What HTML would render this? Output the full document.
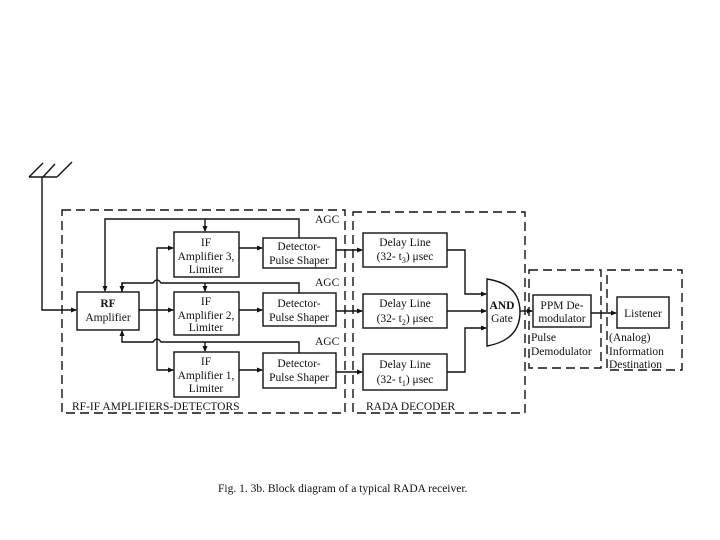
<!DOCTYPE html>
<html><head><meta charset="utf-8"><style>
html,body{margin:0;padding:0;background:#fff;}
svg{display:block;}
text{font-family:"Liberation Serif",serif;font-size:11.5px;fill:#111;}
.b{font-weight:bold;}
</style></head><body>
<svg width="720" height="540" viewBox="0 0 720 540" xmlns="http://www.w3.org/2000/svg">
<defs><marker id="a" markerWidth="6" markerHeight="6" refX="5" refY="3" orient="auto" markerUnits="userSpaceOnUse"><path d="M0,0.5 L6,3 L0,5.5z" fill="#111"/></marker></defs>
<g fill="none" stroke="#111" stroke-width="1.4">
<path d="M29,177 H57 M29,177 L43,163 M43,177 L55,164 M57,177 L72,162"/>
<path d="M42,177 V310 H76" marker-end="url(#a)"/>
<g stroke-dasharray="9,5">
<rect x="62" y="210" width="283" height="203"/>
<rect x="353" y="212" width="172" height="201"/>
<rect x="529" y="270" width="72" height="98"/>
<rect x="607" y="270" width="75" height="100"/>
</g>
<rect x="77" y="292" width="62" height="38"/>
<rect x="174" y="232" width="65" height="45"/>
<rect x="174" y="292" width="65" height="43"/>
<rect x="174" y="352" width="65" height="45"/>
<rect x="263" y="238" width="73" height="30"/>
<rect x="263" y="293" width="73" height="33"/>
<rect x="263" y="353" width="73" height="35"/>
<rect x="363" y="233" width="84" height="34"/>
<rect x="363" y="294" width="84" height="34"/>
<rect x="363" y="354" width="84" height="36"/>
<rect x="533" y="295" width="58" height="32"/>
<rect x="617" y="297" width="52" height="31"/>
<path d="M487,279 V346 Q520,340 520,312 Q520,284 487,279 Z"/>
<path d="M299,238 V219 H105 V291" marker-end="url(#a)"/>
<path d="M205,219 V231" marker-end="url(#a)"/>
<path d="M299,293 V283 H161 Q157,277 153,283 H122 V292"/>
<path d="M122,283 V291" marker-end="url(#a)"/>
<path d="M205,283 V291" marker-end="url(#a)"/>
<path d="M299,353 V342 H161 Q157,336 153,342 H122 V331" marker-end="url(#a)"/>
<path d="M205,342 V351" marker-end="url(#a)"/>
<path d="M139,310 H173" marker-end="url(#a)"/>
<path d="M157,310 V248 H173" marker-end="url(#a)"/>
<path d="M157,310 V370 H173" marker-end="url(#a)"/>
<path d="M239,248 H262" marker-end="url(#a)"/>
<path d="M239,310 H262" marker-end="url(#a)"/>
<path d="M239,370 H262" marker-end="url(#a)"/>
<path d="M336,250 H362" marker-end="url(#a)"/>
<path d="M336,311 H362" marker-end="url(#a)"/>
<path d="M336,372 H362" marker-end="url(#a)"/>
<path d="M447,250 H465 V294 H486" marker-end="url(#a)"/>
<path d="M447,311 H486" marker-end="url(#a)"/>
<path d="M447,372 H465 V328 H486" marker-end="url(#a)"/>
<path d="M520,311 H532" marker-end="url(#a)"/>
<path d="M591,313 H616" marker-end="url(#a)"/>
</g>
<g text-anchor="middle">
<text x="108" y="307" class="b">RF</text><text x="108" y="321">Amplifier</text>
<text x="206" y="246">IF</text><text x="206" y="260">Amplifier 3,</text><text x="206" y="273">Limiter</text>
<text x="206" y="305">IF</text><text x="206" y="319">Amplifier 2,</text><text x="206" y="331">Limiter</text>
<text x="206" y="365">IF</text><text x="206" y="379">Amplifier 1,</text><text x="206" y="392">Limiter</text>
<text x="299" y="250">Detector-</text><text x="299" y="264">Pulse Shaper</text>
<text x="299" y="307">Detector-</text><text x="299" y="321">Pulse Shaper</text>
<text x="299" y="367">Detector-</text><text x="299" y="381">Pulse Shaper</text>
<text x="405" y="246">Delay Line</text><text x="405" y="260">(32- t<tspan font-size="8" dy="3">3</tspan><tspan dy="-3">) μsec</tspan></text>
<text x="405" y="307">Delay Line</text><text x="405" y="322">(32- t<tspan font-size="8" dy="3">2</tspan><tspan dy="-3">) μsec</tspan></text>
<text x="405" y="368">Delay Line</text><text x="405" y="383">(32- t<tspan font-size="8" dy="3">1</tspan><tspan dy="-3">) μsec</tspan></text>
<text x="502" y="309" class="b">AND</text><text x="502" y="322">Gate</text>
<text x="562" y="309">PPM De-</text><text x="562" y="322">modulator</text>
<text x="643" y="317">Listener</text>
</g>
<text x="315" y="223">AGC</text>
<text x="315" y="286">AGC</text>
<text x="315" y="345">AGC</text>
<text x="531" y="341">Pulse</text><text x="531" y="355">Demodulator</text>
<text x="609" y="341">(Analog)</text><text x="609" y="355">Information</text><text x="609" y="368" font-size="10.5">Destination</text>
<text x="72" y="410" font-size="11">RF-IF AMPLIFIERS-DETECTORS</text>
<text x="366" y="410" font-size="11">RADA DECODER</text>
<text x="218" y="492" font-size="11.5">Fig.  1. 3b.   Block diagram of a typical RADA receiver.</text>
</svg>
</body></html>
